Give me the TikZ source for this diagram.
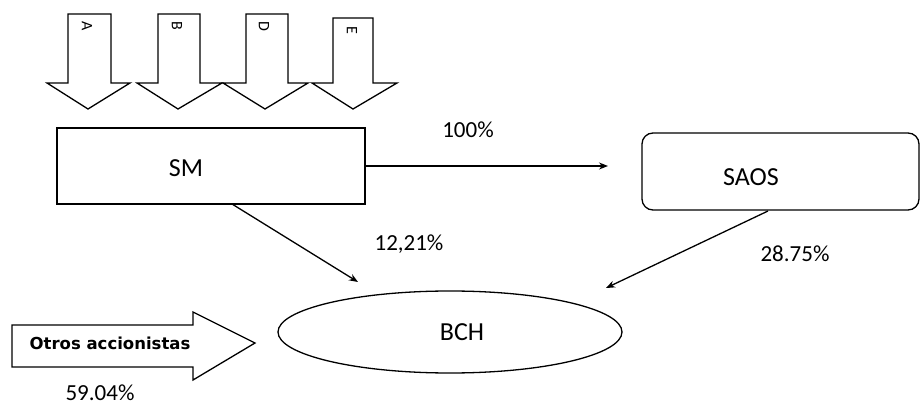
\documentclass[tikz,border=0pt]{standalone}
\usepackage{fontspec}
\setmainfont{Carlito}
\newfontfamily\boldsans{DejaVu Sans}
\usetikzlibrary{shapes.geometric,arrows.meta}
\tikzset{
  line/.style={line width=1.3pt, black},
  arr/.style={line, -{Stealth[length=9pt,width=7pt]}},
  big/.style={font=\fontsize{26}{30}\selectfont, inner sep=0pt},
  pct/.style={font=\fontsize{23}{27}\selectfont, inner sep=0pt},
  letter/.style={font=\fontsize{16}{19}\selectfont, inner sep=0pt, rotate=-90},
  blockarrow/.style={line, fill=white},
}
\begin{document}
\begin{tikzpicture}[x=1pt,y=-1pt]
\useasboundingbox (0,0) rectangle (922,406);
% down block arrows
\foreach \l/\r/\hl/\hr/\tx/\top/\name in {68/111/47/130/88/14/A,158/200/137/222/178/14/B,246/288/223/308/265/14/D,333/373/312/397/353/18/E}{
  \draw[blockarrow] (\l,\top) -- (\r,\top) -- (\r,83) -- (\hr,83) -- (\tx,109) -- (\hl,83) -- (\l,83) -- cycle;
  \node[letter] (lab\name) at (\tx-1,\top+12) {\name};
}
% nodes
\node[line, draw, rectangle, minimum width=308pt, minimum height=76pt, inner sep=0pt] (SM) at (211,166) {};
\node[big] (SMtext) at (186,168) {SM};
\node[line, draw, rectangle, rounded corners=11pt, minimum width=277pt, minimum height=77pt, inner sep=0pt] (SAOS) at (780.5,171.5) {};
\node[big] (SAOStext) at (751,177) {SAOS};
\node[line, draw, ellipse, minimum width=344pt, minimum height=82pt, inner sep=0pt] (BCH) at (450,332) {};
\node[big] (BCHtext) at (462,332) {BCH};
% connectors
\coordinate (e1) at (608,166);
\draw[arr] (SM.east) -- (e1);
\coordinate (s2) at (232,204);
\coordinate (e2) at (358,282);
\draw[arr] (s2) -- (e2);
\coordinate (s3) at (768,211);
\coordinate (e3) at (606,288);
\draw[arr] (s3) -- (e3);
% labels
\node[pct] (p100) at (468,130) {100\%};
\node[pct] (p1221) at (409,244) {12,21\%};
\node[pct] (p2875) at (795,254) {28.75\%};
\node[pct] (p5904) at (100,393) {59.04\%};
% otros accionistas arrow
\draw[blockarrow] (12,325) -- (193,325) -- (193,312) -- (255,343) -- (193,380) -- (193,367) -- (12,367) -- cycle;
\node[font=\boldsans\bfseries\fontsize{16.5}{19}\selectfont, inner sep=0pt] (otros) at (110,343) {Otros accionistas};
\end{tikzpicture}
\end{document}
